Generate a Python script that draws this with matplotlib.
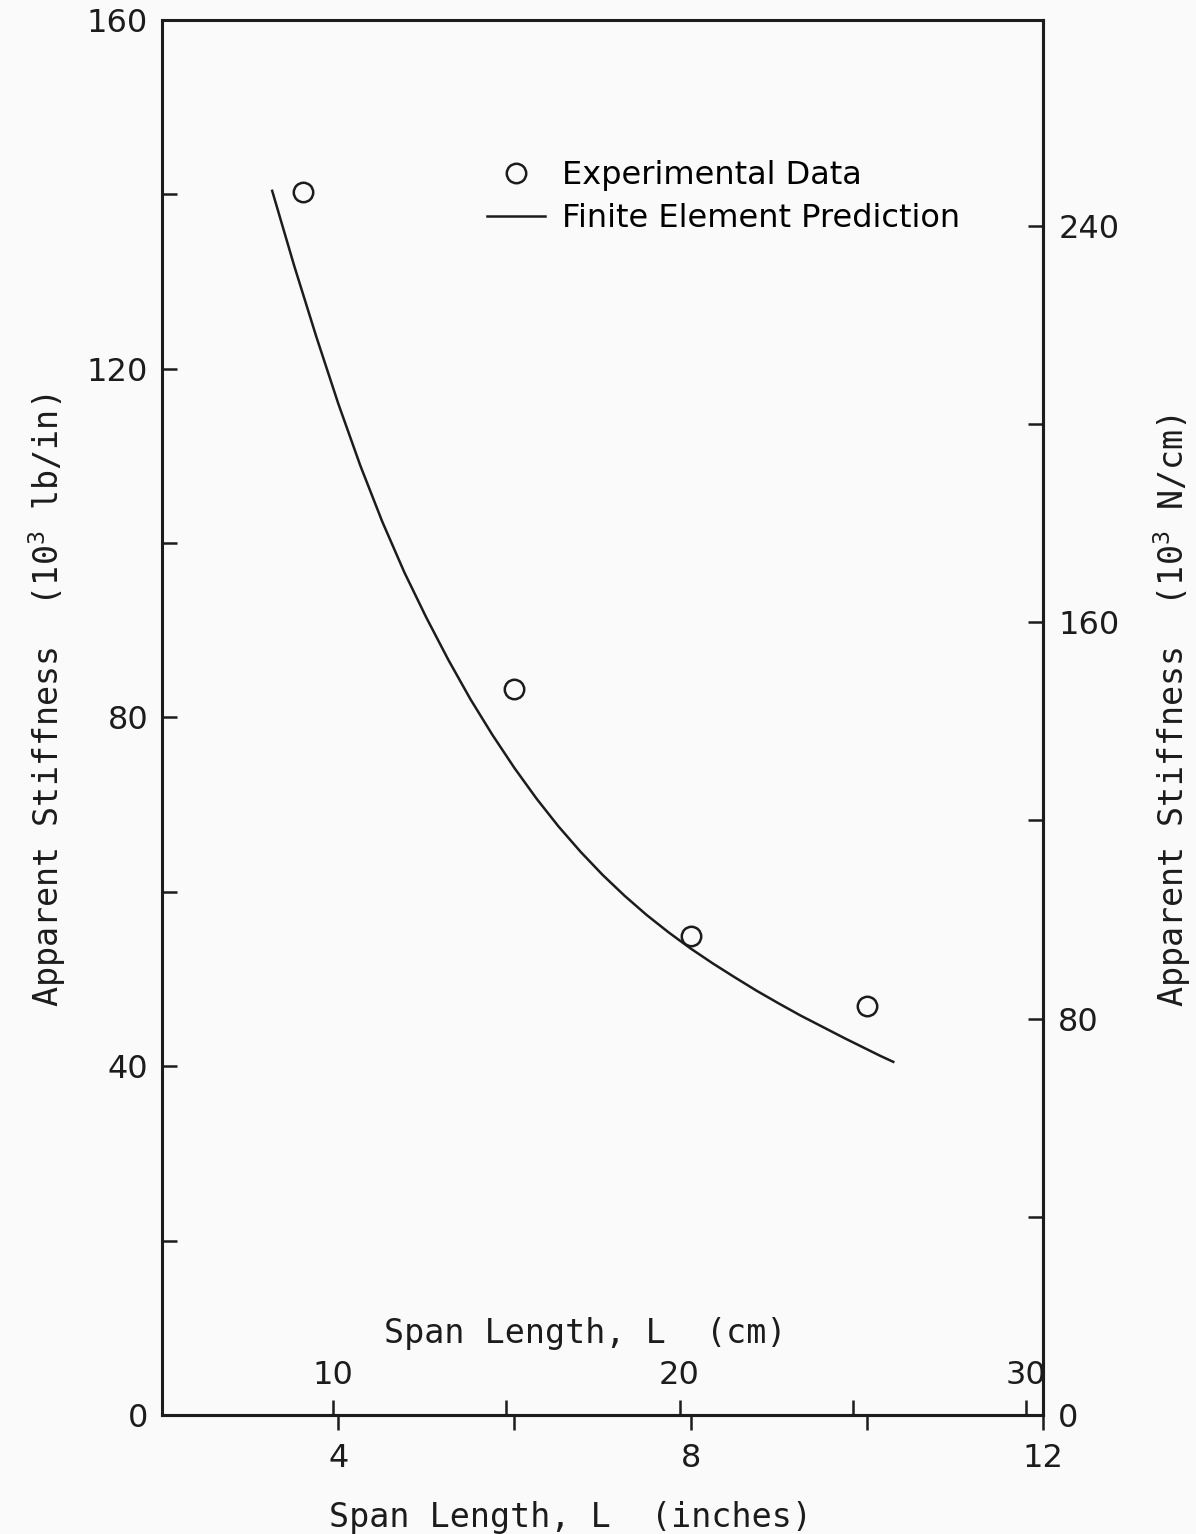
import matplotlib
matplotlib.use("Agg")
import matplotlib.pyplot as plt
from matplotlib.lines import Line2D

# ---- data ----
exp_span_in = [3.6, 6.0, 8.0, 10.0]
exp_stiff = [140.3, 83.3, 54.9, 46.9]

fe_span_in = [3.25, 3.5, 3.75, 4.0, 4.25, 4.5, 4.75, 5.0, 5.25, 5.5, 5.75, 6.0,
              6.25, 6.5, 6.75, 7.0, 7.25, 7.5, 7.75, 8.0, 8.25, 8.5, 8.75, 9.0,
              9.25, 9.5, 9.75, 10.0, 10.15, 10.3]
fe_stiff = [140.4, 131.8, 123.7, 116.0, 108.9, 102.45, 96.65, 91.45, 86.6, 82.1, 78.0, 74.2,
            70.7, 67.5, 64.6, 61.95, 59.55, 57.35, 55.35, 53.5, 51.8, 50.2, 48.65, 47.2,
            45.8, 44.5, 43.2, 41.95, 41.2, 40.5]

left_ticks = [0, 40, 80, 120, 160]
left_minor = [20, 60, 100, 140]
inch_ticks = [4, 8, 12]
inch_minor = [6, 10]
cm_ticks = [10, 20, 30]
cm_minor = [15, 25]
right_ticks = [0, 80, 160, 240]
right_minor = [40, 120, 200]

IN2CM = 2.54
LBIN2NCM = 1.76

INK = "#1c1c1c"
plt.rcParams["font.family"] = ["DejaVu Sans"]
plt.rcParams["mathtext.default"] = "regular"
TICK_FS = 23
LAB_FS = 24
LABEL_FONT = ["DejaVu Sans Mono", "DejaVu Sans"]

fig = plt.figure(figsize=(11.96, 15.34), dpi=100, facecolor="#fafafa")
ax = fig.add_axes([0.1355, 0.0776, 0.7366, 0.9094])
ax.set_facecolor("#fafafa")

ax.plot(fe_span_in, fe_stiff, color=INK, lw=1.8, solid_joinstyle="round")
ax.plot(exp_span_in, exp_stiff, "o", mfc="none", mec=INK, ms=14, mew=1.8)

ax.set_xlim(2, 12)
ax.set_ylim(0, 160)

for s in ax.spines.values():
    s.set_linewidth(2.2)
    s.set_color(INK)

ax.set_yticks(left_ticks)
ax.set_yticks(left_minor, minor=True)
ax.set_xticks(inch_ticks)
ax.set_xticks(inch_minor, minor=True)
ax.tick_params(axis="y", which="both", direction="in", length=11, width=1.8,
               right=False, labelsize=TICK_FS, pad=10, colors=INK)
ax.tick_params(axis="x", which="both", direction="out", length=11, width=1.8,
               top=False, labelsize=TICK_FS, pad=9, colors=INK)

ax.set_xlabel("Span Length, L  (inches)", fontsize=LAB_FS, family=LABEL_FONT,
              va="baseline", color=INK)
ax.xaxis.set_label_coords(0.464, -0.0803)
ax.set_ylabel("Apparent Stiffness  (10$^3$ lb/in)", fontsize=LAB_FS, family=LABEL_FONT,
              va="center", color=INK)
ax.yaxis.set_label_coords(-0.1305, 0.512)

# cm axis drawn inside, above the bottom spine
secx = ax.secondary_xaxis(0.0, functions=(lambda x: x * IN2CM, lambda x: x / IN2CM))
secx.set_alignment("top")
secx.set_xticks(cm_ticks)
secx.set_xticks(cm_minor, minor=True)
secx.tick_params(axis="x", which="both", direction="out", length=11, width=1.8,
                 labelsize=TICK_FS, pad=6, colors=INK)
secx.spines["top"].set_linewidth(2.2)
ax.text(0.48, 0.0516, "Span Length, L  (cm)", transform=ax.transAxes,
        ha="center", va="baseline", fontsize=LAB_FS, family=LABEL_FONT, color=INK)

# N/cm axis on the right
secy = ax.secondary_yaxis("right", functions=(lambda y: y * LBIN2NCM, lambda y: y / LBIN2NCM))
secy.set_yticks(right_ticks)
secy.set_yticks(right_minor, minor=True)
secy.tick_params(axis="y", which="both", direction="in", length=11, width=1.8,
                 labelsize=TICK_FS, pad=11, colors=INK)
secy.spines["right"].set_linewidth(2.2)
ax.text(1.1464, 0.5047, "Apparent Stiffness  (10$^3$ N/cm)", transform=ax.transAxes,
        rotation=90, rotation_mode="anchor", ha="center", va="center",
        fontsize=LAB_FS, family=LABEL_FONT, color=INK)

handles = [
    Line2D([], [], ls="none", marker="o", mfc="none", mec=INK, ms=14, mew=1.8),
    Line2D([], [], color=INK, lw=1.8),
]
ax.legend(handles, ["Experimental Data", "Finite Element Prediction"],
          loc="upper left", bbox_to_anchor=(0.3366, 0.920), frameon=False,
          prop={"size": 23}, handlelength=1.8, handletextpad=0.53, labelspacing=0.38)

fig.savefig("out.png", dpi=100, facecolor=fig.get_facecolor())
